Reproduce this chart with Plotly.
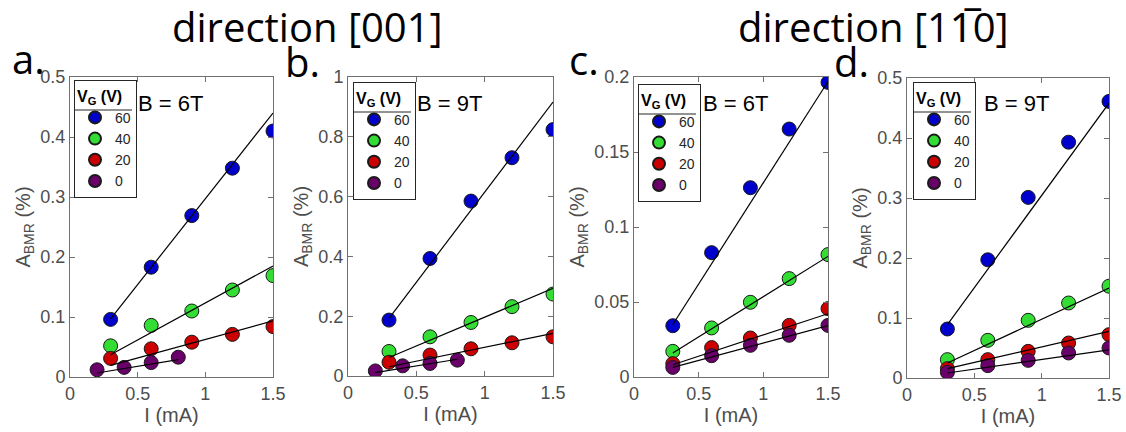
import plotly.graph_objects as go

W, H = 1126, 432

# ---------------- data ----------------
vg_labels = ["60", "40", "20", "0"]
colors = ["#0000cc", "#33dd33", "#cc0000", "#6a006a"]

I_main = [0.3, 0.6, 0.9, 1.2, 1.5]
I_zero_001 = [0.2, 0.4, 0.6, 0.8]

# panel a : direction [001], B = 6T
a_60 = [0.096, 0.183, 0.269, 0.348, 0.410]
a_40 = [0.052, 0.086, 0.110, 0.145, 0.169]
a_20 = [0.031, 0.047, 0.058, 0.071, 0.084]
a_0 = [0.012, 0.016, 0.024, 0.033]
a_fit = {"60": [0.097, 0.440], "40": [0.037, 0.185], "20": [0.0195, 0.0935], "0": [0.0067, 0.029]}

# panel b : direction [001], B = 9T
b_60 = [0.187, 0.393, 0.585, 0.730, 0.824]
b_40 = [0.082, 0.131, 0.179, 0.232, 0.274]
b_20 = [0.046, 0.070, 0.091, 0.111, 0.131]
b_0 = [0.017, 0.034, 0.042, 0.053]
b_fit = {"60": [0.193, 0.916], "40": [0.062, 0.293], "20": [0.031, 0.1425], "0": [0.011, 0.056]}

# panel c : direction [1-10], B = 6T
c_60 = [0.0342, 0.0829, 0.1262, 0.1653, 0.1964]
c_40 = [0.0171, 0.0327, 0.0498, 0.0656, 0.0816]
c_20 = [0.0089, 0.0196, 0.0260, 0.0344, 0.0456]
c_0 = [0.0064, 0.0142, 0.0211, 0.0278, 0.0344]
c_fit = {"60": [0.035, 0.197], "40": [0.016, 0.0804], "20": [0.0082, 0.0422], "0": [0.0064, 0.0342]}

# panel d : direction [1-10], B = 9T
d_60 = [0.0817, 0.197, 0.301, 0.393, 0.461]
d_40 = [0.0306, 0.0628, 0.0961, 0.125, 0.153]
d_20 = [0.0156, 0.0306, 0.0444, 0.0583, 0.0722]
d_0 = [0.0094, 0.0206, 0.0294, 0.0417, 0.050]
d_fit = {"60": [0.089, 0.458], "40": [0.025, 0.150], "20": [0.0156, 0.0778], "0": [0.0083, 0.047]}

fit_x_main = [0.3, 1.5]
fit_x_zero_001 = [0.2, 0.8]

y_ranges = [[0, 0.5], [0, 1], [0, 0.2], [0, 0.5]]
y_ticks = [[0, 0.1, 0.2, 0.3, 0.4, 0.5],
           [0, 0.2, 0.4, 0.6, 0.8, 1],
           [0, 0.05, 0.1, 0.15, 0.2],
           [0, 0.1, 0.2, 0.3, 0.4, 0.5]]
x_ticks = [0, 0.5, 1, 1.5]
b_labels = ["B = 6T", "B = 9T", "B = 6T", "B = 9T"]
panel_letters = ["a.", "b.", "c.", "d."]
titles = ["direction [001]", "direction [11\u03050]"]

panels = [
    dict(series=[a_60, a_40, a_20, a_0], x0=I_zero_001, fit=a_fit, fx0=fit_x_zero_001),
    dict(series=[b_60, b_40, b_20, b_0], x0=I_zero_001, fit=b_fit, fx0=fit_x_zero_001),
    dict(series=[c_60, c_40, c_20, c_0], x0=I_main, fit=c_fit, fx0=fit_x_main),
    dict(series=[d_60, d_40, d_20, d_0], x0=I_main, fit=d_fit, fx0=fit_x_main),
]

# ---------------- layout geometry (pixels) ----------------
boxes = [(70, 273, 77, 377), (348, 553, 77, 376), (634, 828, 77, 377), (907, 1109, 78, 378)]
legend_pos = [(74, 80), (353, 82), (638, 84), (913, 82)]
legend_w = 58
blabel_pos = [(136, 104), (415, 103), (701, 103), (982, 104)]
letter_pos = [(28, 58), (302, 62), (584, 59), (851, 62)]
title_pos = [(307, 26), (873, 26)]

def px_x(x):
    return x / W

def px_y(y):
    return 1 - y / H

fig = go.Figure()
FAM = "Liberation Sans, Arial, sans-serif"
GRAY = "#4d4d4d"
axis_font = dict(family=FAM, size=18, color=GRAY)

for p, panel in enumerate(panels):
    xa = "x" if p == 0 else f"x{p+1}"
    ya = "y" if p == 0 else f"y{p+1}"
    lg = "legend" if p == 0 else f"legend{p+1}"
    for k, (vals, lab, col) in enumerate(zip(panel["series"], vg_labels, colors)):
        xs = panel["x0"] if lab == "0" else I_main
        fig.add_trace(go.Scatter(
            x=xs, y=vals, mode="markers", name=lab, legend=lg,
            marker=dict(color=col, size=14, line=dict(color="#1a1a1a", width=1)),
            xaxis=xa, yaxis=ya, showlegend=True))
    for lab in vg_labels:
        fx = panel["fx0"] if lab == "0" else fit_x_main
        fig.add_trace(go.Scatter(
            x=fx, y=panel["fit"][lab], mode="lines",
            line=dict(color="black", width=1.2),
            xaxis=xa, yaxis=ya, showlegend=False, hoverinfo="skip"))

layout = dict(
    width=W, height=H,
    margin=dict(l=0, r=0, t=0, b=0, autoexpand=False),
    paper_bgcolor="white", plot_bgcolor="white",
    showlegend=True,
    font=dict(family=FAM),
)

shapes = []
for p, (l, r, t, b) in enumerate(boxes):
    sx = "" if p == 0 else str(p + 1)
    common = dict(showline=True, mirror="ticks", ticks="inside", ticklen=5,
                  linecolor="#707070", linewidth=1, tickcolor="#707070",
                  showgrid=False, zeroline=False, tickfont=axis_font)
    layout["xaxis" + sx] = dict(
        domain=[px_x(l), px_x(r)], range=[0, 1.5], tickvals=x_ticks,
        anchor="y" + sx,
        title=dict(text="I (mA)", font=dict(family=FAM, size=20, color=GRAY), standoff=4),
        **common)
    layout["yaxis" + sx] = dict(
        domain=[px_y(b), px_y(t)], range=y_ranges[p], tickvals=y_ticks[p],
        anchor="x" + sx,
        title=dict(text="A<sub>BMR</sub> (%)", font=dict(family=FAM, size=20, color=GRAY), standoff=4),
        **common)
    lg = "legend" if p == 0 else f"legend{p+1}"
    lx, ly = legend_pos[p]
    layout[lg] = dict(
        x=px_x(lx), y=px_y(ly), xanchor="left", yanchor="top",
        bgcolor="rgba(255,255,255,0)", bordercolor="#262626", borderwidth=1,
        font=dict(family=FAM, size=14, color="#262626"),
        title=dict(text="<b>V<sub>G</sub> (V)</b>", font=dict(family=FAM, size=16, color="black")),
        tracegroupgap=0, itemsizing="constant",
    )
    # separator line under the legend title
    shapes.append(dict(type="line", xref="paper", yref="paper", layer="above",
                       x0=px_x(lx), x1=px_x(lx + legend_w), y0=px_y(ly + 30), y1=px_y(ly + 30),
                       line=dict(color="#262626", width=1)))

annotations = []
for p, (bx, by) in enumerate(blabel_pos):
    annotations.append(dict(x=px_x(bx), y=px_y(by), xref="paper", yref="paper",
                            xanchor="left", yanchor="middle", showarrow=False,
                            text=b_labels[p],
                            font=dict(family=FAM, size=22, color="black")))
for p, (lx, ly) in enumerate(letter_pos):
    annotations.append(dict(x=px_x(lx), y=px_y(ly), xref="paper", yref="paper",
                            xanchor="center", yanchor="middle", showarrow=False,
                            text=panel_letters[p],
                            font=dict(family="Open Sans, Noto Sans, sans-serif", size=40, color="black")))
for k, (tx, ty) in enumerate(title_pos):
    annotations.append(dict(x=px_x(tx), y=px_y(ty), xref="paper", yref="paper",
                            xanchor="center", yanchor="middle", showarrow=False,
                            text=titles[k],
                            font=dict(family="Open Sans, Noto Sans, sans-serif", size=40, color="black")))
layout["annotations"] = annotations
layout["shapes"] = shapes

fig.update_layout(**layout)
fig.write_html("out.html", config={"displayModeBar": False},
               post_script="document.body.style.margin='0px';")
